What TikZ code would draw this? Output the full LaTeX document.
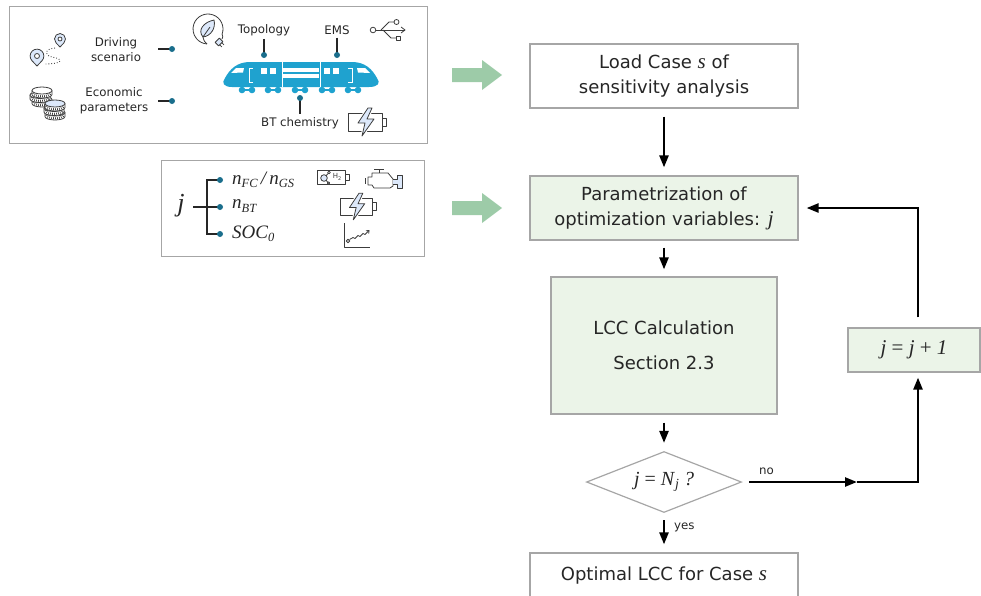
\documentclass[tikz,border=0pt]{standalone}
\usepackage{fontspec}
\setmainfont{DejaVu Sans}
\newfontfamily\serif{Liberation Serif}
\usetikzlibrary{arrows.meta,shapes.geometric,calc}

\definecolor{boxgray}{HTML}{A6A6A6}
\definecolor{boxgreen}{HTML}{EBF4E8}
\definecolor{arrowgreen}{HTML}{9DCBA8}
\definecolor{trainblue}{HTML}{1FA2CF}
\definecolor{dotteal}{HTML}{1A6E8C}
\definecolor{iconfill}{HTML}{DCE8FA}
\definecolor{icongray}{HTML}{3C3C3C}
\definecolor{txt}{HTML}{262626}

% italic serif symbols inside sans text
\newcommand{\fm}[1]{{\serif\itshape\fontsize{21}{25}\selectfont #1}}
\newcommand{\mv}[1]{{\serif\itshape #1}}
\newcommand{\lowsub}[1]{\raisebox{-3.5pt}{\fontsize{12.5}{12.5}\selectfont\serif\itshape #1}}

\tikzset{
  panel/.style={draw=boxgray, line width=1.4pt},
  flowbox/.style={draw=boxgray, line width=1.2pt, align=center, inner sep=0pt,
    font=\fontsize{18}{25}\selectfont, text=txt},
  flowarrow/.style={line width=2.4pt, -{Triangle[length=12pt,width=9pt]}},
  lbl/.style={font=\fontsize{11.8}{15}\selectfont, text=txt, align=center, inner sep=0pt},
  lead/.style={line width=1.1pt, draw=black!85},
  leaddot/.style={fill=dotteal},
  icon/.style={draw=icongray, line width=0.8pt, line join=round},
  greenarrow/.style={fill=arrowgreen},
  mappin/.pic={
    \draw[icon, fill=iconfill] (0,0) -- (-4,-4.22)
      arc[start angle=136.6, end angle=403.4, radius=5.5] -- cycle;
    \draw[icon, fill=white] (0,-8) circle[radius=2];
  },
  coin/.pic={
    \draw[icon, fill=white] (-10,0) -- (-10,4)
      arc[start angle=180, end angle=0, x radius=10, y radius=3.5] -- (10,0);
    \draw[icongray, line width=2.2pt, dash pattern=on 0.6pt off 1.4pt]
      (-8.6,2.4) arc[start angle=180, end angle=0, x radius=8.6, y radius=3.4];
    \draw[icon, fill=#1] (0,0) ellipse[x radius=10, y radius=3.5];
  },
  battery/.pic={
    \draw[icon] (0,0) rectangle (34,18);
    \draw[icon] (34,5) rectangle (38,13);
    \draw[white, line width=3pt, line join=round]
      (20,-5) -- (10,10) -- (17,10) -- (14,23) -- (26,6) -- (19,6) -- (24,-5) -- cycle;
    \draw[icon, fill=iconfill]
      (20,-5) -- (10,10) -- (17,10) -- (14,23) -- (26,6) -- (19,6) -- (24,-5) -- cycle;
  },
}

\begin{document}
\begin{tikzpicture}[x=1pt, y=-1pt]
\useasboundingbox (0,0) rectangle (981,595);

% ---------- input panels ----------
\node[panel, minimum width=418pt, minimum height=137pt, anchor=north west] (inputs) at (9,6) {};
\node[panel, minimum width=263pt, minimum height=96pt, anchor=north west] (vars) at (161,160) {};

% driving scenario
\pic at (37,66) [scale=1.25] {mappin};
\pic at (60,47) {mappin};
\draw[icon, dotted, line width=0.9pt] (55,48) .. controls (45,49) and (43,55) .. (52,57)
  .. controls (64,59) and (64,64) .. (44,64);
\node[lbl] (drv) at (116,50) {Driving\\scenario};
\coordinate (drvtail) at (158,49);
\coordinate (drvdot) at (172,49);
\draw[lead] (drvtail) -- (drvdot);
\fill[leaddot] (drvdot) circle[radius=3];

% economic parameters
\pic at (42,99.5) {coin=white};
\pic at (40,95) {coin=white};
\pic at (42,90.5) {coin=white};
\pic at (55,112.5) {coin=white};
\pic at (54,108) {coin=white};
\pic at (55,103.5) {coin=iconfill};
\node[lbl] (eco) at (114,101) {Economic\\parameters};
\coordinate (ecotail) at (158,101);
\coordinate (ecodot) at (172,101);
\draw[lead] (ecotail) -- (ecodot);
\fill[leaddot] (ecodot) circle[radius=3];

% topology icon: leaf and plug
\draw[icon] ($(208,29)+(20:15)$) arc[start angle=20, end angle=-265, radius=15];
\draw[icon] ($(208,29)+(20:15)$) .. controls (223,37) .. (222,39);
\begin{scope}[shift={(219,42)}, rotate=45]
  \draw[icon, fill=iconfill] (-3,-2.5) rectangle (3,2.5);
  \draw[icon] (-1.5,2.5) -- (-1.5,5.5) (1.5,2.5) -- (1.5,5.5);
\end{scope}
\draw[icon, fill=iconfill] (203,37) .. controls (197,30) and (204,22) .. (214,20)
  .. controls (216,28) and (211,36) .. (203,37) -- cycle;
\draw[icon] (203,37) -- (210,27);
\draw[icon] (203,37) .. controls (204,41) .. (207,44);

% usb icon (EMS)
\draw[icon] (376,30) -- (405,30);
\draw[icon] (401,27) -- (405,30) -- (401,33);
\draw[icon, fill=white] (373,30) circle[radius=2.8];
\draw[icon] (381,30) -- (389,22) -- (394,22);
\draw[icon, fill=white] (396.5,22) circle[radius=2.5];
\draw[icon] (383,30) -- (391,38) -- (396,38);
\draw[icon, fill=white] (396,36) rectangle (400,40);

% train
\fill[trainblue] (232,87) -- (369,87) .. controls (378,87) and (381,83) .. (377,78)
  .. controls (372,69) and (365,62) .. (352,62) -- (250,62)
  .. controls (237,62) and (230,69) .. (225,78) .. controls (221,83) and (224,87) .. (232,87) -- cycle;
\fill[white] (231,73) -- (236,68) -- (244,68) -- (243,72.5) -- cycle;
\fill[white] (370,73) -- (365,68) -- (357,68) -- (358,72.5) -- cycle;
\draw[white, line width=1pt] (282,62) -- (282,87) (320,62) -- (320,87);
\fill[white] (283,68) rectangle (319,71.5);
\fill[white] (283,74) rectangle (319,78);
\draw[white, line width=1pt] (253,68) -- (249,68) -- (249,82) -- (253,82);
\draw[white, line width=1pt] (348,68) -- (352,68) -- (352,82) -- (348,82);
\fill[white] (261,68) rectangle (267,74);
\fill[white] (270,68) rectangle (276,74);
\fill[white] (324,68) rectangle (330,74);
\fill[white] (333,68) rectangle (339,74);
\foreach \w in {242,268,295,322,348} {
  \fill[trainblue] (\w,90) circle[radius=3.3] (\w+10,90) circle[radius=3.3];
  \draw[trainblue, line width=1.2pt] (\w+3,90) -- (\w+7,90);
}

% train attribute labels
\node[lbl] (topo) at (264,30) {Topology};
\coordinate (topodot) at (264,55);
\draw[lead] ([yshift=-3pt]topo.south) -- (topodot);
\fill[leaddot] (topodot) circle[radius=3];
\node[lbl] (ems) at (337,30) {EMS};
\coordinate (emsdot) at (337,55);
\draw[lead] ([yshift=-3pt]ems.south) -- (emsdot);
\fill[leaddot] (emsdot) circle[radius=3];
\node[lbl] (btc) at (300,123) {BT chemistry};
\coordinate (btdot) at (300,98);
\draw[lead] (btdot) -- ([yshift=3pt]btc.north);
\fill[leaddot] (btdot) circle[radius=3];
\pic at (348,113) {battery};

% ---------- optimisation variables ----------
\node[font=\serif\itshape\fontsize{26}{26}\selectfont, text=txt, inner sep=0pt] (jvar) at (181,206) {j};
\coordinate (fork) at (207,207);
\coordinate (d1) at (220,180);
\coordinate (d2) at (220,207);
\coordinate (d3) at (220,234);
\draw[lead] (193,207) -- (fork) -- (d2);
\draw[lead] (d1) -| (fork) |- (d3);
\foreach \d in {d1,d2,d3} \fill[leaddot] (\d) circle[radius=3];
\node[anchor=west, inner sep=0pt, text=txt, font=\serif\itshape\fontsize{19}{19}\selectfont] (nfc) at (232,180)
  {n\lowsub{FC}\,/\,n\lowsub{GS}};
\node[anchor=west, inner sep=0pt, text=txt, font=\serif\itshape\fontsize{19}{19}\selectfont] (nbt) at (232,206)
  {n\lowsub{BT}};
\node[anchor=west, inner sep=0pt, text=txt, font=\serif\itshape\fontsize{19}{19}\selectfont] (soc) at (232,234)
  {SOC\lowsub{0}};

% fuel cell / generator icons
\draw[icon] (317,170) rectangle (345,184);
\draw[icon] (345,174) rectangle (349,180);
\draw[icon] (324,178) -- (329,172.5) (324,178) -- (328.5,183);
\draw[icon, fill=iconfill] (324,178) circle[radius=3.3];
\draw[icon, fill=white] (329,172.5) circle[radius=1.4];
\draw[icon, fill=white] (328.5,183) circle[radius=1.2];
\node[inner sep=0pt, text=icongray, font=\fontsize{7}{7}\selectfont] (htwo) at (337,177) {H\raisebox{-1.3pt}{\fontsize{5}{5}\selectfont 2}};
\draw[icon] (372,173) -- (388,173) -- (393,179) -- (393,186) -- (390,188) -- (374,188)
  -- (372,185) -- (368,185) -- (368,177) -- (372,177) -- cycle;
\draw[icon] (365,178) -- (365,184);
\draw[icon] (374,169) -- (384,169) (379,169) -- (379,173);
\draw[icon, fill=iconfill] (393,179) -- (397,179) -- (397,175) -- (402,175) -- (402,188)
  -- (397,188) -- (397,184) -- (393,184);
\pic at (340,198) [scale=0.95] {battery};
\draw[icon] (344,223) -- (344,247) -- (370,247);
\draw[icon] (348,241) circle[radius=1.8];
\draw[icon, -{Straight Barb[length=2.5pt,width=4pt]}] (349.5,239.5) -- (353,237.5) -- (355,238.5)
  -- (358,235.5) -- (360,236.5) -- (363,233.5) -- (365,234.5) -- (369.5,230);

% ---------- flow chart ----------
\node[flowbox, fill=white, minimum width=268pt, minimum height=64pt] (load) at (664,76)
  {Load Case \fm{s} of\\sensitivity analysis};
\node[flowbox, fill=boxgreen, minimum width=268pt, minimum height=64pt] (param) at (664,208)
  {Parametrization of\\optimization variables: \fm{j}};
\node[flowbox, fill=boxgreen, minimum width=226pt, minimum height=137pt] (lcc) at (664,345.5)
  {LCC Calculation\\[10pt]Section 2.3};
\node[diamond, draw=boxgray, line width=1.2pt, minimum width=155pt, minimum height=61pt,
  inner sep=0pt, aspect=2.5, text=txt, font=\serif\fontsize{20}{20}\selectfont] (check) at (664,482)
  {\textit{j} = \textit{N}\raisebox{-3.5pt}{\fontsize{14}{14}\selectfont\textit{j}} \textit{?}};
\node[flowbox, fill=boxgreen, minimum width=132pt, minimum height=44pt,
  font=\serif\fontsize{21}{21}\selectfont] (incr) at (914,350)
  {\textit{j} = \textit{j} + \textit{1}};
\node[flowbox, fill=white, minimum width=268pt, minimum height=46pt] (best) at (664,576)
  {Optimal LCC for Case \fm{s}};

% green feed arrows
\foreach \yy in {75,208} {
  \fill[greenarrow] (452,\yy-7) -- (482,\yy-7) -- (482,\yy-15) -- (502,\yy) -- (482,\yy+15)
    -- (482,\yy+7) -- (452,\yy+7) -- cycle;
}

% connectors
\draw[flowarrow] ([yshift=-8pt]load.south) -- ([yshift=8pt]param.north);
\draw[flowarrow] ([yshift=-7pt]param.south) -- ([yshift=7pt]lcc.north);
\draw[flowarrow] ([yshift=-8pt]lcc.south) -- ([yshift=8pt]check.north);
\draw[flowarrow] ([yshift=-7pt]check.south) -- ([yshift=8pt]best.north);
\node[lbl, anchor=west] (yes) at (674,527) {yes};

\coordinate (turn) at (918,482);
\coordinate (nomid) at (857,482);
\draw[flowarrow] ([xshift=7pt]check.east) -- (nomid);
\draw[flowarrow] (nomid) -- (turn) -- ([yshift=-5pt]turn |- incr.south);
\node[lbl, anchor=west] (no) at (759,471) {no};
\draw[flowarrow] ([yshift=10pt]turn |- incr.north) -- (turn |- param.east) -- ([xshift=8pt]param.east);

\end{tikzpicture}
\end{document}
